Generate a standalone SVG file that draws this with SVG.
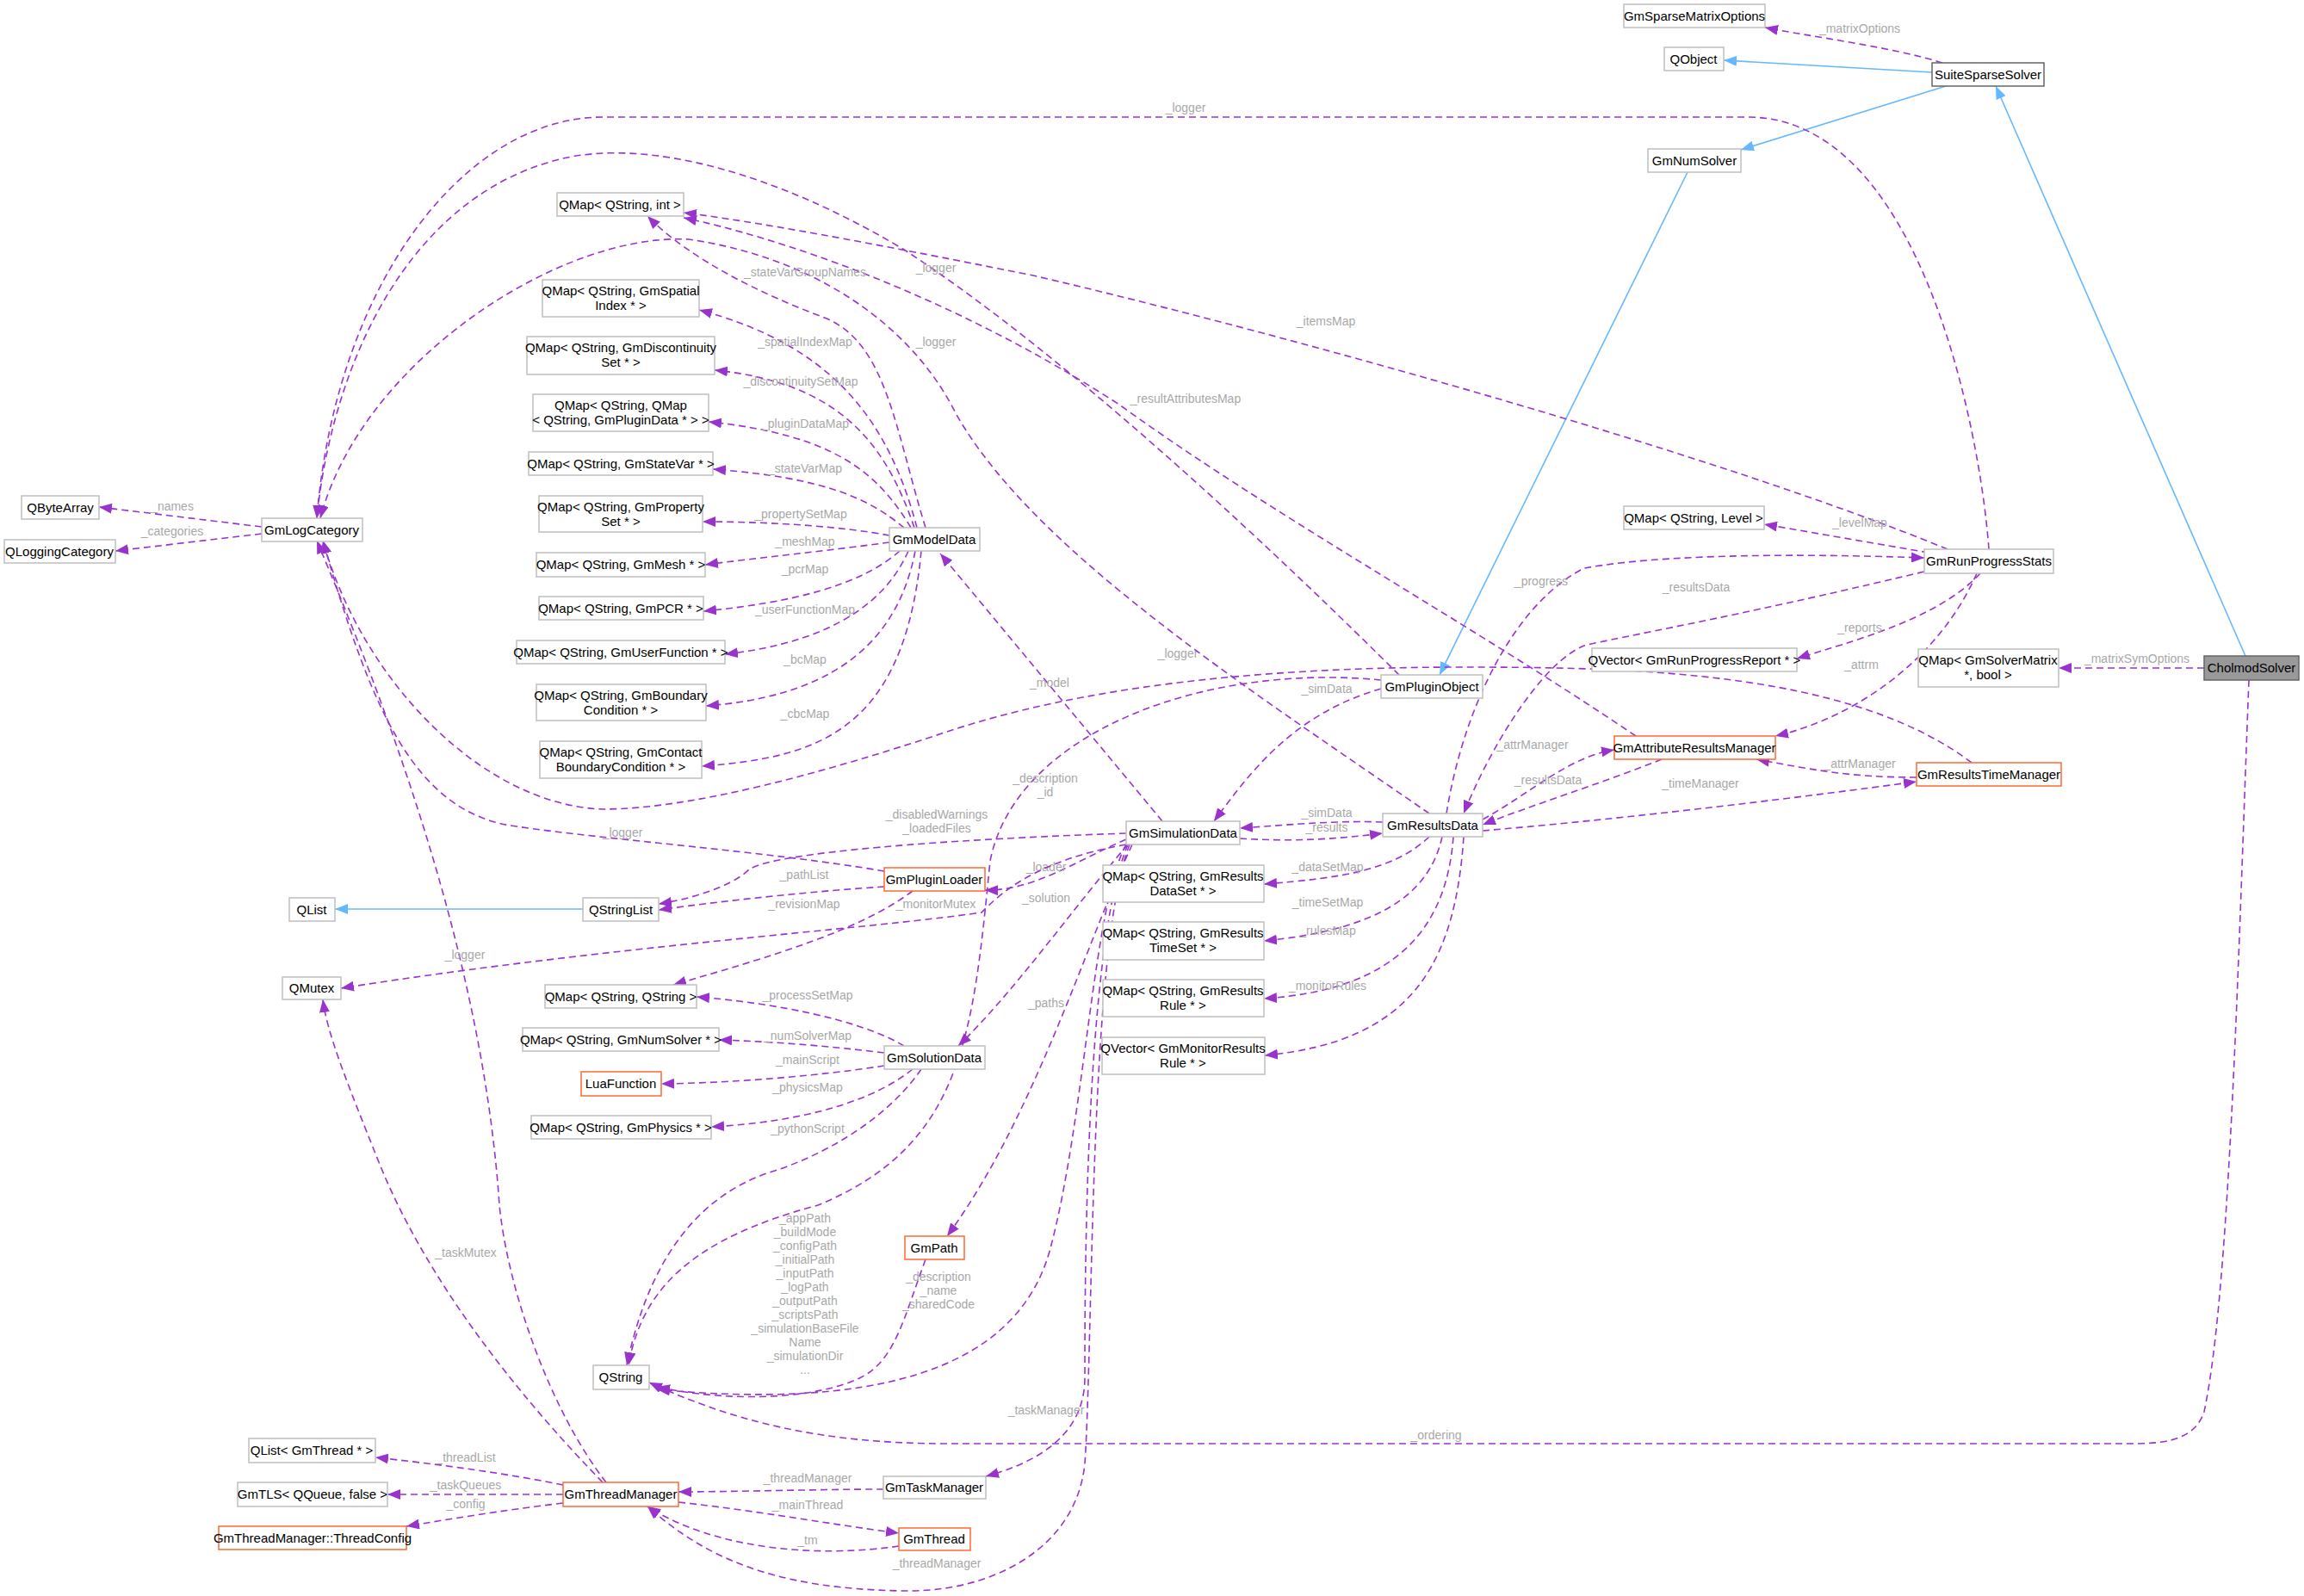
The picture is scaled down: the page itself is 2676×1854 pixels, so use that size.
<svg xmlns="http://www.w3.org/2000/svg" width="2676" height="1854" viewBox="0 0 2676 1854">
<style>
.n rect{fill:#fff;stroke:#bfbfbf;stroke-width:1.5}
.n.o rect{stroke:#ff6a33}
.n.d rect{stroke:#666}
.n.g rect{fill:#999;stroke:#666}
text{font-family:"Liberation Sans Narrow","Liberation Sans",Arial,sans-serif;font-size:15px;fill:#000;text-anchor:middle}
.l{fill:#a8a8a8;font-size:14px}
.e{fill:none;stroke:#9a32cd;stroke-width:1.6;stroke-dasharray:8,5;marker-end:url(#a)}
.b{fill:none;stroke:#63b8ff;stroke-width:1.6;marker-end:url(#ab)}
</style>
<defs>
<marker id="a" markerUnits="userSpaceOnUse" markerWidth="16" markerHeight="12" refX="15" refY="6" orient="auto"><path d="M0,0 L15,6 L0,12 z" fill="#9a32cd"/></marker>
<marker id="ab" markerUnits="userSpaceOnUse" markerWidth="16" markerHeight="12" refX="15" refY="6" orient="auto"><path d="M0,0 L15,6 L0,12 z" fill="#63b8ff"/></marker>
</defs>
<rect width="2676" height="1854" fill="#fff"/>
<g id="edges">
<path class="e" d="M2256,73 C2200,55 2100,42 2050,32"/><text class="l" x="2160" y="38">_matrixOptions</text>
<path class="b" d="M2244,84 L2002,70"/>
<path class="b" d="M2260,100 L2022,174"/>
<path class="b" d="M2608,762 L2318,100"/>
<path class="b" d="M1960,200 L1672,784"/>
<path class="b" d="M677,1056 L389,1056"/>
<path class="e" d="M2560,776 L2391,776"/><text class="l" x="2482" y="770">_matrixSymOptions</text>
<path class="e" d="M2612,790 C2600,1100 2590,1500 2560,1640 C2550,1670 2520,1677 2480,1677 L1100,1677 C950,1677 850,1650 754,1606"/><text class="l" x="1668" y="1672">_ordering</text>
<path class="e" d="M2310,638 C2300,500 2230,136 2030,136 L700,136 C540,136 390,330 368,602"/><text class="l" x="1377" y="130">_logger</text>
<path class="e" d="M2262,638 C2000,530 1500,390 1200,320 C1000,280 880,258 794,247"/><text class="l" x="1540" y="378">_itemsMap</text>
<path class="e" d="M2240,642 L2049,609"/><text class="l" x="2160" y="612">_levelMap</text>
<path class="e" d="M2300,666 C2250,720 2150,745 2087,765"/><text class="l" x="2160" y="734">_reports</text>
<path class="e" d="M2296,666 C2250,770 2150,835 2062,855"/><text class="l" x="2162" y="777">_attrm</text>
<path class="e" d="M1680,945 C1700,820 1760,700 1840,660 C1950,640 2150,645 2235,648"/><text class="l" x="1790" y="680">_progress</text>
<path class="e" d="M2235,664 C2000,720 1880,740 1840,750 C1790,770 1730,870 1700,945"/><text class="l" x="1970" y="687">_resultsData</text>
<path class="e" d="M1722,952 C1780,920 1820,880 1875,871"/><text class="l" x="1780" y="870">_attrManager</text>
<path class="e" d="M1930,882 C1860,910 1780,935 1722,958"/><text class="l" x="1798" y="911">_resultsData</text>
<path class="e" d="M1722,965 C1900,950 2100,925 2226,908"/><text class="l" x="1975" y="915">_timeManager</text>
<path class="e" d="M2226,903 C2150,903 2110,895 2040,882"/><text class="l" x="2160" y="892">_attrManager</text>
<path class="e" d="M2290,886 C2150,780 1900,775 1700,775 C1450,775 1250,800 1100,850 C950,900 800,940 700,940 C560,935 420,790 375,628"/><text class="l" x="1368" y="764">_logger</text>
<path class="e" d="M1625,784 C1500,660 1250,420 1050,290 C900,200 750,160 650,185 C470,230 385,430 368,602"/><text class="l" x="1087" y="316">_logger</text>
<path class="e" d="M1660,945 C1450,800 1200,640 1110,480 C1060,380 950,300 800,278 C650,270 420,420 372,602"/><text class="l" x="1087" y="402">_logger</text>
<path class="e" d="M1900,855 C1700,720 1480,600 1300,470 C1100,340 900,275 794,253"/><text class="l" x="1377" y="468">_resultAttributesMap</text>
<path class="e" d="M1075,613 C1040,500 1030,400 960,370 C880,340 800,300 752,251"/><text class="l" x="935" y="321">_stateVarGroupNames</text>
<path class="e" d="M1065,613 C1030,480 960,400 812,360"/><text class="l" x="935" y="402">_spatialIndexMap</text>
<path class="e" d="M1062,613 C1030,520 980,445 830,430"/><text class="l" x="930" y="448">_discontinuitySetMap</text>
<path class="e" d="M1058,613 C1020,550 970,505 823,490"/><text class="l" x="935" y="497">_pluginDataMap</text>
<path class="e" d="M1050,613 C1010,580 960,555 828,545"/><text class="l" x="935" y="549">_stateVarMap</text>
<path class="e" d="M1033,622 C980,612 900,606 816,606"/><text class="l" x="930" y="602">_propertySetMap</text>
<path class="e" d="M1033,630 C960,640 880,648 819,656"/><text class="l" x="935" y="634">_meshMap</text>
<path class="e" d="M1045,640 C1000,680 920,700 817,710"/><text class="l" x="935" y="666">_pcrMap</text>
<path class="e" d="M1055,640 C1020,720 930,750 842,760"/><text class="l" x="935" y="713">_userFunctionMap</text>
<path class="e" d="M1063,640 C1040,760 950,810 820,820"/><text class="l" x="935" y="771">_bcMap</text>
<path class="e" d="M1070,640 C1050,850 950,880 815,890"/><text class="l" x="935" y="834">_cbcMap</text>
<path class="e" d="M1350,954 L1092,643"/><text class="l" x="1219" y="798">_model</text>
<path class="e" d="M1308,975 C1250,1000 1200,1035 1144,1034"/><text class="l" x="1215" y="1012">_loader</text>
<path class="e" d="M1308,968 C1100,975 900,990 870,1010 C850,1030 800,1045 765,1050"/><text class="l" x="1088" y="951">_disabledWarnings</text><text class="l" x="1088" y="967">_loadedFiles</text>
<path class="e" d="M1027,1030 C950,1035 850,1045 765,1057"/><text class="l" x="934" y="1021">_pathList</text>
<path class="e" d="M1027,1012 C900,990 700,975 600,960 C480,945 430,820 375,628"/><text class="l" x="723" y="972">_logger</text>
<path class="e" d="M1060,1035 C1000,1080 900,1110 782,1144"/><text class="l" x="934" y="1055">_revisionMap</text>
<path class="e" d="M1308,981 C1200,1000 1160,1040 1140,1060 C1000,1080 700,1100 396,1148"/><text class="l" x="1087" y="1055">_monitorMutex</text>
<path class="e" d="M1310,981 C1250,1050 1180,1150 1113,1215"/><text class="l" x="1215" y="1048">_solution</text>
<path class="e" d="M1315,981 C1260,1100 1200,1300 1100,1436"/><text class="l" x="1215" y="1170">_paths</text>
<path class="e" d="M1308,981 C1270,1050 1260,1300 1220,1450 C1180,1600 1000,1636 763,1614"/>
<text class="l" x="935" y="1420">_appPath</text><text class="l" x="935" y="1436">_buildMode</text><text class="l" x="935" y="1452">_configPath</text><text class="l" x="935" y="1468">_initialPath</text><text class="l" x="935" y="1484">_inputPath</text><text class="l" x="935" y="1500">_logPath</text><text class="l" x="935" y="1516">_outputPath</text><text class="l" x="935" y="1532">_scriptsPath</text><text class="l" x="935" y="1548">_simulationBaseFile</text><text class="l" x="935" y="1564">Name</text><text class="l" x="935" y="1580">_simulationDir</text><text class="l" x="935" y="1596">...</text>
<path class="e" d="M1310,981 C1260,1100 1260,1500 1260,1600 C1260,1670 1200,1700 1145,1715"/><text class="l" x="1215" y="1643">_taskManager</text>
<path class="e" d="M1312,981 C1265,1100 1270,1550 1260,1700 C1250,1800 1150,1850 1050,1848 C900,1846 820,1810 752,1750"/><text class="l" x="1088" y="1821">_threadManager</text>
<path class="e" d="M1604,800 C1500,830 1450,900 1410,954"/><text class="l" x="1541" y="805">_simData</text>
<path class="e" d="M1606,955 C1550,953 1500,958 1440,962"/><text class="l" x="1541" y="949">_simData</text>
<path class="e" d="M1440,974 C1500,978 1550,975 1606,968"/><text class="l" x="1541" y="966">_results</text>
<path class="e" d="M1660,972 C1620,1010 1560,1020 1468,1027"/><text class="l" x="1542" y="1012">_dataSetMap</text>
<path class="e" d="M1675,972 C1660,1040 1600,1080 1468,1093"/><text class="l" x="1542" y="1053">_timeSetMap</text>
<path class="e" d="M1688,972 C1680,1080 1620,1150 1468,1160"/><text class="l" x="1542" y="1086">_rulesMap</text>
<path class="e" d="M1700,972 C1690,1120 1640,1210 1469,1226"/><text class="l" x="1542" y="1150">_monitorRules</text>
<path class="e" d="M1604,790 C1400,770 1180,850 1150,1000 C1130,1200 1120,1330 950,1400 C800,1440 745,1500 730,1586"/><text class="l" x="1214" y="909">_description</text><text class="l" x="1214" y="925">_id</text>
<path class="e" d="M1070,1242 C1030,1300 960,1340 900,1360 C800,1390 750,1480 728,1586"/><text class="l" x="938" y="1316">_pythonScript</text>
<path class="e" d="M1050,1215 C1000,1185 900,1165 809,1158"/><text class="l" x="938" y="1161">_processSetMap</text>
<path class="e" d="M1027,1223 C960,1215 900,1210 835,1208"/><text class="l" x="938" y="1208">_numSolverMap</text>
<path class="e" d="M1027,1238 C950,1250 850,1258 768,1259"/><text class="l" x="938" y="1236">_mainScript</text>
<path class="e" d="M1060,1242 C1000,1290 900,1305 826,1309"/><text class="l" x="938" y="1268">_physicsMap</text>
<path class="e" d="M1075,1463 C1050,1530 1040,1580 1000,1600 C950,1625 850,1630 763,1611"/><text class="l" x="1090" y="1488">_description</text><text class="l" x="1090" y="1504">_name</text><text class="l" x="1090" y="1520">_sharedCode</text>
<path class="e" d="M1026,1730 C950,1730 850,1733 788,1733"/><text class="l" x="938" y="1722">_threadManager</text>
<path class="e" d="M788,1745 C880,1755 960,1770 1044,1781"/><text class="l" x="938" y="1753">_mainThread</text>
<path class="e" d="M1044,1796 C950,1810 830,1800 752,1750"/><text class="l" x="938" y="1794">_tm</text>
<path class="e" d="M654,1725 C580,1710 500,1700 436,1693"/><text class="l" x="541" y="1698">_threadList</text>
<path class="e" d="M654,1736 L450,1736"/><text class="l" x="541" y="1730">_taskQueues</text>
<path class="e" d="M654,1746 C580,1755 520,1765 472,1773"/><text class="l" x="541" y="1752">_config</text>
<path class="e" d="M700,1722 C620,1640 500,1500 440,1350 C400,1250 380,1200 375,1161"/><text class="l" x="541" y="1460">_taskMutex</text>
<path class="e" d="M704,1722 C640,1640 590,1500 580,1400 C560,1100 440,800 368,628"/><text class="l" x="540" y="1114">_logger</text>
<path class="e" d="M304,612 L115,589"/><text class="l" x="200" y="593">_names</text>
<path class="e" d="M304,620 L134,640"/><text class="l" x="200" y="622">_categories</text>
</g>
<g id="GmSparseMatrixOptions" class="n"><rect x="1886" y="5" width="164" height="27"/><text x="1968" y="24">GmSparseMatrixOptions</text></g>
<g id="QObject" class="n"><rect x="1933" y="55" width="69" height="27"/><text x="1967" y="74">QObject</text></g>
<g id="SuiteSparseSolver" class="n d"><rect x="2244" y="73" width="130" height="27"/><text x="2309" y="92">SuiteSparseSolver</text></g>
<g id="GmNumSolver" class="n"><rect x="1914" y="173" width="108" height="27"/><text x="1968" y="192">GmNumSolver</text></g>
<g id="QMapInt" class="n"><rect x="647" y="224" width="147" height="27"/><text x="720" y="243">QMap&lt; QString, int &gt;</text></g>
<g id="QMapSpatial" class="n"><rect x="630" y="325" width="182" height="43"/><text x="721" y="343">QMap&lt; QString, GmSpatial</text><text x="721" y="360">Index * &gt;</text></g>
<g id="QMapDiscont" class="n"><rect x="612" y="391" width="218" height="44"/><text x="721" y="409">QMap&lt; QString, GmDiscontinuity</text><text x="721" y="426">Set * &gt;</text></g>
<g id="QMapPluginData" class="n"><rect x="619" y="458" width="204" height="43"/><text x="721" y="476">QMap&lt; QString, QMap</text><text x="721" y="493">&lt; QString, GmPluginData * &gt; &gt;</text></g>
<g id="QMapStateVar" class="n"><rect x="614" y="525" width="214" height="27"/><text x="721" y="544">QMap&lt; QString, GmStateVar * &gt;</text></g>
<g id="QMapProperty" class="n"><rect x="626" y="576" width="190" height="42"/><text x="721" y="594">QMap&lt; QString, GmProperty</text><text x="721" y="611">Set * &gt;</text></g>
<g id="QByteArray" class="n"><rect x="25" y="576" width="90" height="27"/><text x="70" y="595">QByteArray</text></g>
<g id="GmLogCategory" class="n"><rect x="304" y="602" width="117" height="27"/><text x="362" y="621">GmLogCategory</text></g>
<g id="QLoggingCategory" class="n"><rect x="5" y="627" width="129" height="27"/><text x="69" y="646">QLoggingCategory</text></g>
<g id="QMapMesh" class="n"><rect x="623" y="642" width="196" height="28"/><text x="721" y="661">QMap&lt; QString, GmMesh * &gt;</text></g>
<g id="QMapPCR" class="n"><rect x="626" y="693" width="191" height="27"/><text x="721" y="712">QMap&lt; QString, GmPCR * &gt;</text></g>
<g id="QMapUserFunction" class="n"><rect x="600" y="744" width="242" height="27"/><text x="721" y="763">QMap&lt; QString, GmUserFunction * &gt;</text></g>
<g id="QMapBoundary" class="n"><rect x="623" y="795" width="197" height="42"/><text x="721" y="813">QMap&lt; QString, GmBoundary</text><text x="721" y="830">Condition * &gt;</text></g>
<g id="QMapContact" class="n"><rect x="627" y="861" width="188" height="43"/><text x="721" y="879">QMap&lt; QString, GmContact</text><text x="721" y="896">BoundaryCondition * &gt;</text></g>
<g id="GmModelData" class="n"><rect x="1033" y="613" width="105" height="27"/><text x="1085" y="632">GmModelData</text></g>
<g id="QMapLevel" class="n"><rect x="1886" y="588" width="163" height="27"/><text x="1967" y="607">QMap&lt; QString, Level &gt;</text></g>
<g id="GmRunProgressStats" class="n"><rect x="2235" y="638" width="150" height="28"/><text x="2310" y="657">GmRunProgressStats</text></g>
<g id="QVectorReport" class="n"><rect x="1849" y="753" width="238" height="27"/><text x="1968" y="772">QVector&lt; GmRunProgressReport * &gt;</text></g>
<g id="QMapSolverMatrix" class="n"><rect x="2228" y="754" width="163" height="44"/><text x="2309" y="772">QMap&lt; GmSolverMatrix</text><text x="2309" y="789">*, bool &gt;</text></g>
<g id="CholmodSolver" class="n g"><rect x="2560" y="762" width="110" height="28"/><text x="2615" y="781">CholmodSolver</text></g>
<g id="GmPluginObject" class="n"><rect x="1604" y="784" width="118" height="27"/><text x="1663" y="803">GmPluginObject</text></g>
<g id="GmAttributeResultsManager" class="n o"><rect x="1875" y="855" width="187" height="27"/><text x="1968" y="874">GmAttributeResultsManager</text></g>
<g id="GmResultsTimeManager" class="n o"><rect x="2226" y="886" width="168" height="27"/><text x="2310" y="905">GmResultsTimeManager</text></g>
<g id="GmSimulationData" class="n"><rect x="1308" y="954" width="132" height="27"/><text x="1374" y="973">GmSimulationData</text></g>
<g id="GmResultsData" class="n"><rect x="1606" y="945" width="116" height="27"/><text x="1664" y="964">GmResultsData</text></g>
<g id="GmPluginLoader" class="n o"><rect x="1027" y="1008" width="117" height="27"/><text x="1085" y="1027">GmPluginLoader</text></g>
<g id="QMapDataSet" class="n"><rect x="1281" y="1005" width="187" height="43"/><text x="1374" y="1023">QMap&lt; QString, GmResults</text><text x="1374" y="1040">DataSet * &gt;</text></g>
<g id="QMapTimeSet" class="n"><rect x="1281" y="1071" width="187" height="44"/><text x="1374" y="1089">QMap&lt; QString, GmResults</text><text x="1374" y="1106">TimeSet * &gt;</text></g>
<g id="QMapRule" class="n"><rect x="1281" y="1138" width="187" height="43"/><text x="1374" y="1156">QMap&lt; QString, GmResults</text><text x="1374" y="1173">Rule * &gt;</text></g>
<g id="QVectorMonitor" class="n"><rect x="1280" y="1205" width="189" height="43"/><text x="1374" y="1223">QVector&lt; GmMonitorResults</text><text x="1374" y="1240">Rule * &gt;</text></g>
<g id="QList" class="n"><rect x="336" y="1043" width="53" height="27"/><text x="362" y="1062">QList</text></g>
<g id="QStringList" class="n"><rect x="677" y="1043" width="88" height="27"/><text x="721" y="1062">QStringList</text></g>
<g id="QMutex" class="n"><rect x="328" y="1135" width="68" height="26"/><text x="362" y="1153">QMutex</text></g>
<g id="QMapQString" class="n"><rect x="633" y="1144" width="176" height="27"/><text x="721" y="1163">QMap&lt; QString, QString &gt;</text></g>
<g id="QMapNumSolver" class="n"><rect x="607" y="1194" width="228" height="27"/><text x="721" y="1213">QMap&lt; QString, GmNumSolver * &gt;</text></g>
<g id="GmSolutionData" class="n"><rect x="1027" y="1215" width="117" height="27"/><text x="1085" y="1234">GmSolutionData</text></g>
<g id="LuaFunction" class="n o"><rect x="675" y="1245" width="93" height="28"/><text x="721" y="1264">LuaFunction</text></g>
<g id="QMapPhysics" class="n"><rect x="617" y="1296" width="209" height="27"/><text x="721" y="1315">QMap&lt; QString, GmPhysics * &gt;</text></g>
<g id="GmPath" class="n o"><rect x="1051" y="1436" width="69" height="27"/><text x="1085" y="1455">GmPath</text></g>
<g id="QString" class="n"><rect x="689" y="1586" width="65" height="28"/><text x="721" y="1605">QString</text></g>
<g id="QListThread" class="n"><rect x="289" y="1671" width="147" height="28"/><text x="362" y="1690">QList&lt; GmThread * &gt;</text></g>
<g id="GmTaskManager" class="n"><rect x="1026" y="1715" width="119" height="26"/><text x="1085" y="1733">GmTaskManager</text></g>
<g id="GmTLS" class="n"><rect x="276" y="1722" width="174" height="28"/><text x="363" y="1741">GmTLS&lt; QQueue, false &gt;</text></g>
<g id="GmThreadManager" class="n o"><rect x="654" y="1722" width="134" height="28"/><text x="721" y="1741">GmThreadManager</text></g>
<g id="ThreadConfig" class="n o"><rect x="254" y="1773" width="218" height="27"/><text x="363" y="1792">GmThreadManager::ThreadConfig</text></g>
<g id="GmThread" class="n o"><rect x="1044" y="1775" width="83" height="26"/><text x="1085" y="1793">GmThread</text></g>
</svg>
